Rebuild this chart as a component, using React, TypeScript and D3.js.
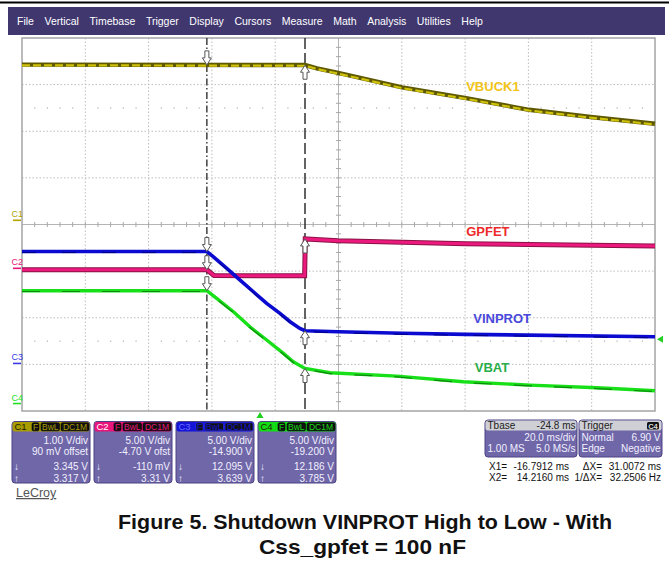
import { useEffect, useRef } from 'react'
import * as d3 from 'd3'

const MENU = ['File', 'Vertical', 'Timebase', 'Trigger', 'Display', 'Cursors', 'Measure', 'Math', 'Analysis', 'Utilities', 'Help']

// time axis (ms) : 20 ms/div, 10 divs, centre at +24.8 ms
const T_MIN = -75.2
const T_MAX = 124.8
const X1_T = -16.7912
const X2_T = 14.216
const TRIG_LEVEL = 6.9

// traces: time in ms, value in volts
const VBUCK1_T = [-75.2, 14.2, 18, 24.7, 44.9, 65.1, 85.0, 105.2, 124.8]
const VBUCK1_V = [3.34, 3.33, 3.26, 3.16, 2.85, 2.62, 2.37, 2.21, 2.07]

const GPFET_T = [-75.2, -16.8, -14.5, 14.1, 14.3, 24.7, 65.1, 124.8]
const GPFET_V = [-0.15, -0.15, -0.78, -0.8, 3.15, 2.95, 2.64, 2.39]

const VINPROT_T = [-75.2, -16.8, -14.8, -10.5, -6.3, -2.1, 2.1, 6.3, 9.5, 12.6, 14.2, 24.7, 44.9, 65.1, 124.8]
const VINPROT_V = [12.0, 12.0, 11.45, 10.2, 8.94, 7.69, 6.44, 5.37, 4.47, 3.76, 3.51, 3.4, 3.23, 3.12, 2.86]

const VBAT_T = [-75.2, -16.8, -13.7, -8.4, -3.2, 2.1, 7.4, 10.5, 14.2, 22.1, 43.2, 64.2, 85.3, 106.4, 124.8]
const VBAT_V = [12.1, 12.1, 11.28, 9.84, 8.23, 6.81, 5.38, 4.48, 3.77, 3.3, 2.94, 2.33, 1.98, 1.69, 1.37]

// channel setup
const CH_NAMES = ['C1', 'C2', 'C3', 'C4']
const CH_VDIV = [1, 5, 5, 5]
const CH_OFFSET = [0.09, -4.7, -14.9, -19.2]
const CH_VDIV_TXT = ['1.00 V/div', '5.00 V/div', '5.00 V/div', '5.00 V/div']
const CH_OFS_TXT = ['90 mV offset', '-4.70 V ofst', '-14.900 V', '-19.200 V']
const CH_X1_TXT = ['3.345 V', '-110 mV', '12.095 V', '12.186 V']
const CH_X2_TXT = ['3.317 V', '3.31 V', '3.639 V', '3.785 V']
const CH_COLORS = ['#a89c00', '#e8157a', '#1414d8', '#14dc14']
const CH_TAG_COLORS = ['#b0a400', '#e8157a', '#3a3ae8', '#22e022']

const TRACE_LABELS = ['VBUCK1', 'GPFET', 'VINPROT', 'VBAT']
const LABEL_COLORS = ['#f2c418', '#ee2a2a', '#4848dc', '#2aae4a']
// label anchor: time (ms), level (V) on its channel
const LABEL_T = [73.6, 72.0, 76.5, 73.3]
const LABEL_V = [2.88, 3.9, 4.87, 3.91]

const TBASE_TXT = ['Tbase', '-24.8 ms', '20.0 ms/div', '1.00 MS', '5.0 MS/s']
const TRIG_TXT = ['Trigger', 'C4', 'Normal', '6.90 V', 'Edge', 'Negative']
const CURSOR_TXT = [['X1=', '-16.7912 ms', 'ΔX=', '31.0072 ms'], ['X2=', '14.2160 ms', '1/ΔX=', '32.2506 Hz']]

const CAPTION = ['Figure 5. Shutdown VINPROT High to Low - With', 'Css_gpfet = 100 nF']

const FONT = '"Liberation Sans", Arial, sans-serif'

export default function App() {
  const svgRef = useRef<SVGSVGElement>(null)

  useEffect(() => {
    document.body.style.margin = '0'
    if (!svgRef.current) return
    const svg = d3.select(svgRef.current)
    svg.selectAll('*').remove()

    const W = 669
    const H = 577
    svg.attr('width', W).attr('height', H).style('font-family', FONT)
    svg.append('rect').attr('width', W).attr('height', H).attr('fill', '#fff')

    // top line + menu bar
    svg.append('rect').attr('x', 0).attr('y', 1.5).attr('width', W).attr('height', 2).attr('fill', '#000')
    svg.append('rect').attr('x', 8).attr('y', 7).attr('width', 657).attr('height', 28).attr('fill', '#40376f')
    let mx = 17
    MENU.forEach((m) => {
      const t = svg.append('text')
        .attr('x', mx).attr('y', 24.5)
        .attr('fill', '#fff')
        .style('font-size', '10.5px')
        .text(m)
      mx += (t.node() as SVGTextElement).getComputedTextLength() + 10.6
    })

    const x = d3.scaleLinear().domain([T_MIN, T_MAX]).range([22, 655])
    const yDiv = d3.scaleLinear().domain([-4, 4]).range([411, 38])
    const chY = (ci: number) => (v: number) => yDiv((v + CH_OFFSET[ci]) / CH_VDIV[ci])

    const g = svg.append('g')

    // grid
    for (let i = 1; i < 10; i++) {
      const gx = x(T_MIN + i * 20)
      g.append('line')
        .attr('x1', gx).attr('x2', gx).attr('y1', 38).attr('y2', 411)
        .attr('stroke', i === 5 ? '#b4b4b4' : '#bdbdbd')
        .attr('stroke-dasharray', i === 5 ? null : '1.5,2')
    }
    for (let j = -3; j <= 3; j++) {
      const gy = yDiv(j)
      g.append('line')
        .attr('x1', 22).attr('x2', 655).attr('y1', gy).attr('y2', gy)
        .attr('stroke', j === 0 ? '#b4b4b4' : '#bdbdbd')
        .attr('stroke-dasharray', j === 0 ? null : '1.5,2')
    }
    // minor ticks on centre axes
    for (let k = 1; k < 50; k++) {
      const tx = x(T_MIN + k * 4)
      g.append('line').attr('x1', tx).attr('x2', tx).attr('y1', yDiv(0) - 2.5).attr('y2', yDiv(0) + 2.5)
        .attr('stroke', '#a8a8a8')
    }
    for (let k = -19; k < 20; k++) {
      const ty = yDiv(k * 0.2)
      g.append('line').attr('x1', x(24.8) - 2.5).attr('x2', x(24.8) + 2.5).attr('y1', ty).attr('y2', ty)
        .attr('stroke', '#a8a8a8')
    }
    // sparse dots at +-2.5 div
    ;[2.5, -2.5].forEach((d) => {
      for (let k = 1; k < 50; k++) {
        if (k % 5 === 0) continue
        g.append('rect').attr('x', x(T_MIN + k * 4) - 0.5).attr('y', yDiv(d) - 0.5)
          .attr('width', 1.2).attr('height', 1.2).attr('fill', '#b0b0b0')
      }
    })
    g.append('rect').attr('x', 22).attr('y', 38).attr('width', 633).attr('height', 373)
      .attr('fill', 'none').attr('stroke', '#a4a4a4').attr('stroke-width', 1.5)

    // channel ground markers on the left
    CH_NAMES.forEach((c, ci) => {
      const gy = chY(ci)(0)
      g.append('text').attr('x', 11.5).attr('y', gy - 3)
        .attr('fill', CH_TAG_COLORS[ci]).style('font-size', '9px').text(c)
      g.append('line').attr('x1', 13).attr('x2', 21).attr('y1', gy).attr('y2', gy)
        .attr('stroke', CH_TAG_COLORS[ci]).attr('stroke-width', 1.6)
    })

    // cursors
    g.append('line').attr('x1', x(X1_T)).attr('x2', x(X1_T)).attr('y1', 38).attr('y2', 411)
      .attr('stroke', '#333').attr('stroke-width', 1.4).attr('stroke-dasharray', '7,2.5,1.5,2.5')
    g.append('line').attr('x1', x(X2_T)).attr('x2', x(X2_T)).attr('y1', 38).attr('y2', 411)
      .attr('stroke', '#222').attr('stroke-width', 1.4).attr('stroke-dasharray', '11,4')

    const lineFor = (ci: number) => d3.line<[number, number]>()
      .x((d) => x(d[0]))
      .y((d) => chY(ci)(d[1]))

    const zip = (ts: number[], vs: number[]) => ts.map((t, i) => [t, vs[i]] as [number, number])

    // VBUCK1 (C1)
    const vb = zip(VBUCK1_T, VBUCK1_V)
    g.append('path').datum(vb).attr('d', lineFor(0)).attr('fill', 'none')
      .attr('stroke', '#5e5800').attr('stroke-width', 4.4)
    g.append('path').datum(vb).attr('d', lineFor(0)).attr('fill', 'none')
      .attr('stroke', '#cfc20a').attr('stroke-width', 2.2).attr('stroke-dasharray', '8,3')
      .attr('transform', 'translate(0,0.7)')

    // GPFET (C2)
    const gp = zip(GPFET_T, GPFET_V)
    g.append('path').datum(gp).attr('d', lineFor(1)).attr('fill', 'none')
      .attr('stroke', '#8a1245').attr('stroke-width', 5)
    g.append('path').datum(gp).attr('d', lineFor(1)).attr('fill', 'none')
      .attr('stroke', '#ec1a7e').attr('stroke-width', 3)

    // VINPROT (C3)
    const vp = zip(VINPROT_T, VINPROT_V)
    g.append('path').datum(vp).attr('d', lineFor(2)).attr('fill', 'none')
      .attr('stroke', '#0a0ad0').attr('stroke-width', 3.6)
    g.append('path').datum(vp).attr('d', lineFor(2)).attr('fill', 'none')
      .attr('stroke', '#000088').attr('stroke-width', 1).attr('stroke-dasharray', '14,26')
      .attr('transform', 'translate(0,1)')

    // VBAT (C4)
    const vt = zip(VBAT_T, VBAT_V)
    g.append('path').datum(vt).attr('d', lineFor(3)).attr('fill', 'none')
      .attr('stroke', '#18e018').attr('stroke-width', 3.4)
    g.append('path').datum(vt).attr('d', lineFor(3)).attr('fill', 'none')
      .attr('stroke', '#0d8a0d').attr('stroke-width', 1.2).attr('stroke-dasharray', '18,22')
      .attr('transform', 'translate(0,0.8)')

    // cursor arrows
    const arrow = (ax: number, ay: number, dir: 1 | -1) => {
      const p = `M-2,${-14 * dir} L2,${-14 * dir} L2,${-7 * dir} L4.5,${-7 * dir} L0,0 L-4.5,${-7 * dir} L-2,${-7 * dir} Z`
      g.append('path').attr('d', p).attr('transform', `translate(${ax},${ay})`)
        .attr('fill', '#fff').attr('stroke', '#555').attr('stroke-width', 1)
    }
    const interp = (ts: number[], vs: number[], t: number) => d3.scaleLinear().domain(ts).range(vs)(t)
    const sets: [number[], number[]][] = [[VBUCK1_T, VBUCK1_V], [GPFET_T, GPFET_V], [VINPROT_T, VINPROT_V], [VBAT_T, VBAT_V]]
    sets.forEach(([ts, vs], ci) => {
      arrow(x(X1_T), chY(ci)(interp(ts, vs, X1_T - 0.2)), 1)
      arrow(x(X2_T), chY(ci)(interp(ts, vs, X2_T + 0.2)), -1)
    })

    // trace labels
    TRACE_LABELS.forEach((l, ci) => {
      g.append('text').attr('x', x(LABEL_T[ci])).attr('y', chY(ci)(LABEL_V[ci]))
        .attr('text-anchor', 'middle').attr('dominant-baseline', 'central').attr('fill', LABEL_COLORS[ci])
        .style('font-size', '13px').style('font-weight', 'bold').text(l)
    })

    // trigger markers
    const tx0 = x(0)
    g.append('path').attr('d', `M${tx0 - 3.5},418 L${tx0 + 3.5},418 L${tx0},412 Z`).attr('fill', '#22d022')
    const ty0 = chY(3)(TRIG_LEVEL)
    g.append('path').attr('d', `M657,${ty0} L663,${ty0 - 3.5} L663,${ty0 + 3.5} Z`).attr('fill', '#22d022')

    // channel panels
    const PANEL_BG = '#6f67a8'
    const panelW = 78
    CH_NAMES.forEach((c, ci) => {
      const px = 12 + ci * 82
      const py = 421.5
      const pg = svg.append('g').attr('transform', `translate(${px},${py})`)
      pg.append('rect').attr('width', panelW).attr('height', 61.5).attr('rx', 3)
        .attr('fill', PANEL_BG).attr('stroke', '#4b4384').attr('stroke-width', 1)
      pg.append('rect').attr('x', 0.5).attr('y', 0.5).attr('width', panelW - 1).attr('height', 9.5).attr('rx', 2.5)
        .attr('fill', CH_COLORS[ci])
      pg.append('text').attr('x', 2.5).attr('y', 8.6)
        .attr('fill', ci === 0 || ci === 3 ? '#1e1c00' : ci === 1 ? '#fff' : '#6a6aff')
        .style('font-size', '9.5px').text(c)
      const boxes: [string, number, number][] = [['F', 20, 7], ['BwL', 29, 18.5], ['DC1M', 49, 28]]
      boxes.forEach(([b, bx, bw]) => {
        pg.append('rect').attr('x', bx).attr('y', 1.3).attr('width', bw).attr('height', 8).attr('rx', 1.5)
          .attr('fill', '#111').attr('stroke', ci === 2 ? '#3030ff' : '#000').attr('stroke-width', 0.6)
        pg.append('text').attr('x', bx + bw / 2).attr('y', 8.4).attr('text-anchor', 'middle')
          .attr('fill', CH_COLORS[ci]).style('font-size', '8.5px').text(b)
      })
      const txt = (s: string, ty: number, anchor: string, tx: number) =>
        pg.append('text').attr('x', tx).attr('y', ty).attr('text-anchor', anchor)
          .attr('fill', '#f2f0ff').style('font-size', '10px').text(s)
      txt(CH_VDIV_TXT[ci], 22.5, 'end', panelW - 2)
      txt(CH_OFS_TXT[ci], 33.5, 'end', panelW - 2)
      txt('↓', 48.5, 'start', 2)
      txt(CH_X1_TXT[ci], 48.5, 'end', panelW - 2)
      txt('↑', 60, 'start', 2)
      txt(CH_X2_TXT[ci], 60, 'end', panelW - 2)
    })

    // timebase & trigger panels
    const infoPanel = (px: number, pw: number, rows: [string, string][], head: [string, string], tagHead: boolean) => {
      const pg = svg.append('g').attr('transform', `translate(${px},420)`)
      pg.append('rect').attr('width', pw).attr('height', 37).attr('rx', 3)
        .attr('fill', PANEL_BG).attr('stroke', '#4b4384')
      pg.append('rect').attr('x', 0.5).attr('y', 0.5).attr('width', pw - 1).attr('height', 10).attr('rx', 2.5)
        .attr('fill', '#cfcfd6')
      pg.append('text').attr('x', 2.5).attr('y', 9).attr('fill', '#222').style('font-size', '10px').text(head[0])
      if (tagHead) {
        pg.append('rect').attr('x', pw - 15).attr('y', 2).attr('width', 12).attr('height', 7.5).attr('rx', 1.5).attr('fill', '#111')
        pg.append('text').attr('x', pw - 9).attr('y', 8.6).attr('text-anchor', 'middle').attr('fill', '#ddd')
          .style('font-size', '7.5px').style('font-weight', 'bold').text(head[1])
      } else {
        pg.append('text').attr('x', pw - 1.5).attr('y', 9).attr('text-anchor', 'end').attr('fill', '#222')
          .style('font-size', '10px').text(head[1])
      }
      rows.forEach(([l, r], i) => {
        const ry = 20.5 + i * 11
        pg.append('text').attr('x', 2.5).attr('y', ry).attr('fill', '#f2f0ff').style('font-size', '10px').text(l)
        pg.append('text').attr('x', pw - 1.5).attr('y', ry).attr('text-anchor', 'end').attr('fill', '#f2f0ff')
          .style('font-size', '10px').text(r)
      })
    }
    infoPanel(485, 92, [['', TBASE_TXT[2]], [TBASE_TXT[3], TBASE_TXT[4]]], [TBASE_TXT[0], TBASE_TXT[1]], false)
    infoPanel(579, 83, [[TRIG_TXT[2], TRIG_TXT[3]], [TRIG_TXT[4], TRIG_TXT[5]]], [TRIG_TXT[0], TRIG_TXT[1]], true)

    CURSOR_TXT.forEach((row, i) => {
      const ry = 470 + i * 11.3
      svg.append('text').attr('x', 489).attr('y', ry).attr('fill', '#111').style('font-size', '10px').text(row[0])
      svg.append('text').attr('x', 569).attr('y', ry).attr('text-anchor', 'end').attr('fill', '#111').style('font-size', '10px').text(row[1])
      svg.append('text').attr('x', 602).attr('y', ry).attr('text-anchor', 'end').attr('fill', '#111').style('font-size', '10px').text(row[2])
      svg.append('text').attr('x', 661).attr('y', ry).attr('text-anchor', 'end').attr('fill', '#111').style('font-size', '10px').text(row[3])
    })

    // LeCroy logo
    svg.append('text').attr('x', 16).attr('y', 497).attr('fill', '#555')
      .style('font-size', '12.5px').style('text-decoration', 'underline').text('LeCroy')

    // caption
    const CAP_LEN = [494, 207]
    CAPTION.forEach((c, i) => {
      svg.append('text').attr('x', i === 0 ? 365 : 362.5).attr('y', 528.5 + i * 25).attr('text-anchor', 'middle')
        .attr('fill', '#111')
        .attr('textLength', CAP_LEN[i]).attr('lengthAdjust', 'spacingAndGlyphs')
        .style('font-size', '21px').style('font-weight', 'bold').text(c)
    })
  }, [])

  return <svg ref={svgRef} style={{ display: 'block' }} />
}
